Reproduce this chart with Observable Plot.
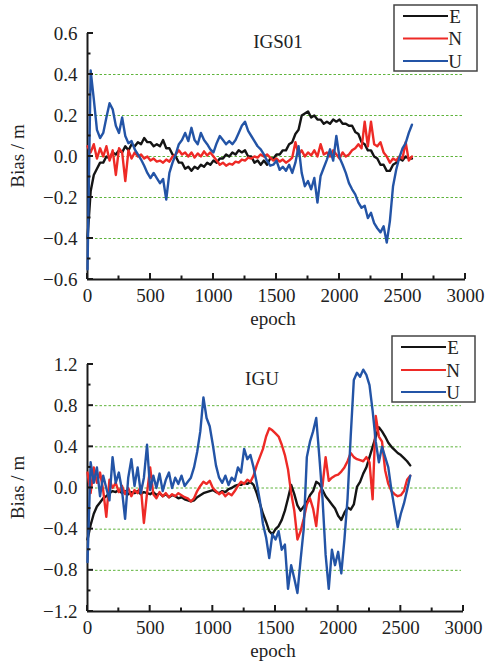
<!DOCTYPE html>
<html><head><meta charset="utf-8">
<script src="https://cdn.jsdelivr.net/npm/d3@7"></script>
<script src="https://cdn.jsdelivr.net/npm/@observablehq/plot@0.6"></script>
<style>
body{margin:0;background:#fff;}
#chart{width:488px;position:relative;}
#chart svg{display:block;}
</style></head><body><div id="chart"></div>
<script>
// sampling epochs shared by both panels
const epochs = [0,25,50,75,100,125,150,175,200,225,250,275,300,325,350,375,400,425,450,475,500,525,550,575,600,625,650,675,700,725,750,775,800,825,850,875,900,925,950,975,1000,1025,1050,1075,1100,1125,1150,1175,1200,1225,1250,1275,1300,1325,1350,1375,1400,1425,1450,1475,1500,1525,1550,1575,1600,1625,1650,1675,1700,1725,1750,1775,1800,1825,1850,1875,1900,1925,1950,1975,2000,2025,2050,2075,2100,2125,2150,2175,2200,2225,2250,2275,2300,2325,2350,2375,2400,2425,2450,2475,2500,2525,2550,2575];

// IGS01 panel
const igs01E = [-0.40,-0.17,-0.09,-0.06,-0.03,-0.03,0.00,-0.01,0.02,0.01,0.03,0.02,0.05,0.03,0.06,0.05,0.07,0.06,0.09,0.07,0.07,0.05,0.06,0.05,0.08,0.04,0.04,0.01,0.00,-0.03,-0.03,-0.06,-0.05,-0.07,-0.05,-0.06,-0.04,-0.05,-0.03,-0.04,-0.02,-0.03,-0.01,-0.01,0.01,0.00,0.02,0.01,0.03,0.02,0.03,0.00,0.00,-0.03,-0.02,-0.04,-0.02,-0.04,-0.01,-0.01,0.01,0.01,0.03,0.03,0.06,0.07,0.11,0.13,0.20,0.21,0.22,0.19,0.20,0.18,0.18,0.16,0.17,0.16,0.18,0.17,0.18,0.16,0.16,0.15,0.15,0.12,0.11,0.07,0.06,0.03,0.03,0.00,-0.01,-0.04,-0.04,-0.07,-0.07,-0.04,-0.03,-0.01,-0.02,0.00,-0.01,-0.01];
const igs01N = [0.05,0.02,0.06,-0.01,0.04,0.00,0.05,-0.02,0.03,-0.09,0.04,0.02,-0.12,0.03,-0.01,0.02,0.00,0.01,-0.01,0.00,-0.02,-0.01,-0.025,-0.02,-0.03,-0.015,-0.025,0.00,0.01,0.03,0.01,0.02,0.00,0.02,-0.005,0.015,0.00,0.025,0.005,0.02,0.00,-0.02,-0.04,-0.03,-0.045,-0.035,-0.04,-0.025,-0.03,-0.015,-0.02,-0.005,-0.01,0.00,-0.005,0.01,0.00,0.01,-0.005,-0.02,-0.01,-0.025,-0.015,-0.03,-0.02,-0.005,0.07,0.01,0.03,0.00,0.02,0.005,0.03,0.00,0.06,0.01,0.02,0.00,0.03,0.01,-0.01,0.02,0.00,0.01,0.03,0.04,0.06,0.04,0.17,0.05,0.17,0.06,0.05,0.07,0.02,0.00,-0.03,-0.01,-0.02,0.00,-0.01,0.07,-0.02,0.00];
const igs01U = [-0.55,0.42,0.28,0.13,0.09,0.115,0.19,0.26,0.23,0.15,0.115,0.19,0.10,0.065,0.075,0.035,0.01,-0.015,-0.045,-0.08,-0.105,-0.08,-0.105,-0.13,-0.11,-0.21,-0.08,-0.03,0.01,0.06,0.08,0.115,0.075,0.14,0.08,0.06,0.115,0.08,0.06,0.035,0.02,0.065,0.10,0.08,0.06,0.075,0.06,0.08,0.115,0.15,0.17,0.125,0.10,0.075,0.05,0.035,0.01,-0.02,-0.045,-0.04,-0.02,-0.065,-0.05,-0.07,-0.04,-0.08,-0.03,0.05,-0.08,-0.145,-0.12,-0.16,-0.105,-0.225,-0.095,-0.055,-0.015,0.035,-0.02,0.10,-0.005,-0.04,-0.08,-0.13,-0.16,-0.185,-0.225,-0.25,-0.24,-0.30,-0.275,-0.325,-0.35,-0.37,-0.34,-0.42,-0.315,-0.145,-0.065,-0.005,0.04,0.065,0.115,0.155];

// IGU panel
const iguE = [-0.50,-0.36,-0.25,-0.18,-0.14,-0.10,-0.08,-0.05,-0.03,-0.04,-0.02,-0.05,-0.03,-0.06,-0.04,-0.05,-0.03,-0.06,-0.04,-0.05,-0.06,-0.04,-0.07,-0.05,-0.08,-0.06,-0.09,-0.07,-0.08,-0.10,-0.09,-0.11,-0.12,-0.13,-0.12,-0.09,-0.07,-0.05,-0.04,-0.03,-0.02,-0.04,-0.05,-0.03,-0.04,-0.01,0.00,0.02,0.03,0.03,0.05,0.04,0.06,0.03,-0.05,-0.15,-0.25,-0.33,-0.42,-0.45,-0.40,-0.37,-0.31,-0.22,-0.10,0.03,-0.06,-0.17,-0.22,-0.18,-0.14,-0.07,-0.03,0.06,0.04,-0.02,-0.08,-0.12,-0.16,-0.20,-0.27,-0.31,-0.24,-0.19,-0.21,-0.16,0.01,0.06,0.14,0.20,0.30,0.40,0.50,0.59,0.55,0.50,0.44,0.40,0.37,0.34,0.32,0.29,0.26,0.22];
const iguN = [0.15,-0.05,0.20,0.05,0.15,-0.02,-0.28,0.08,0.00,0.05,-0.04,0.02,-0.06,0.00,-0.08,-0.02,-0.05,0.02,-0.34,-0.05,0.20,-0.06,-0.10,-0.04,-0.08,-0.05,-0.09,-0.06,-0.08,-0.05,-0.07,-0.09,-0.10,-0.13,-0.10,-0.03,0.02,0.06,0.04,0.07,0.00,-0.03,-0.06,-0.04,-0.08,-0.05,-0.07,-0.03,0.02,0.06,0.04,0.08,0.06,0.12,0.22,0.30,0.38,0.50,0.58,0.56,0.53,0.50,0.42,0.32,0.18,-0.05,-0.22,-0.50,-0.42,-0.30,-0.16,-0.10,-0.20,-0.37,-0.05,0.02,0.30,0.07,0.10,0.12,0.13,0.16,0.20,0.26,0.34,0.30,0.28,0.27,0.26,0.30,0.25,-0.11,0.70,0.50,0.45,0.17,0.04,-0.03,-0.06,-0.08,-0.07,-0.03,0.08,0.12];
const iguU = [-0.72,0.25,0.05,0.20,-0.08,0.12,0.00,-0.12,0.30,0.05,0.15,-0.02,-0.30,0.10,0.28,0.02,0.20,-0.05,0.10,0.42,-0.02,0.12,0.00,0.14,-0.03,0.08,0.15,0.00,0.10,0.04,0.12,0.02,0.06,0.10,0.20,0.35,0.55,0.88,0.68,0.60,0.42,0.22,0.10,0.05,0.12,0.03,0.10,0.07,0.20,0.15,0.38,0.28,0.32,0.20,0.05,-0.12,-0.35,-0.48,-0.68,-0.45,-0.50,-0.42,-0.60,-0.55,-0.98,-0.75,-0.88,-1.02,-0.70,-0.40,0.30,0.45,0.55,0.68,0.30,-0.10,-0.65,-0.98,-0.60,-0.75,-0.62,-0.83,-0.50,-0.10,0.50,1.05,1.12,1.08,1.15,1.10,1.00,0.75,0.45,0.25,0.40,0.30,0.20,-0.02,-0.20,-0.38,-0.25,-0.15,-0.02,0.12];

const seriesNames = ["E", "N", "U"];
const seriesColors = ["#141414", "#ee2a26", "#2354a6"];
const xTicks = [0, 500, 1000, 1500, 2000, 2500, 3000];
const xMinorTicks = [250, 750, 1250, 1750, 2250, 2750];
const igs01YTicks = [-0.6, -0.4, -0.2, 0, 0.2, 0.4, 0.6];
const igs01YMinor = [-0.5, -0.3, -0.1, 0.1, 0.3, 0.5];
const igs01Grid = [-0.4, -0.2, 0, 0.2, 0.4];
const iguYTicks = [-1.2, -0.8, -0.4, 0, 0.4, 0.8, 1.2];
const iguYMinor = [-1.0, -0.6, -0.2, 0.2, 0.6, 1.0];
const iguGrid = [-0.8, -0.4, 0, 0.4, 0.8];

const FONT = "'Liberation Serif', 'Times New Roman', serif";
const FS = 19;

function panel(cfg) {
  const W = 488, H = 333;
  const m = cfg.margin;
  const rows = [];
  [cfg.E, cfg.N, cfg.U].forEach((vals, k) => {
    vals.forEach((v, i) => rows.push({epoch: epochs[i], value: v, series: seriesNames[k]}));
  });
  const [y0, y1] = cfg.yDomain;
  const axisColor = "#1a1a1a";
  const svg = Plot.plot({
    width: W, height: H,
    marginTop: m.top, marginRight: m.right, marginBottom: m.bottom, marginLeft: m.left,
    x: {domain: [0, 3000]},
    y: {domain: cfg.yDomain},
    color: {domain: seriesNames, range: seriesColors},
    style: {fontFamily: FONT, fontSize: FS + "px", color: "#222", background: "#fff", overflow: "visible"},
    marks: [
      Plot.ruleY(cfg.grid, {y: d => d, stroke: "#5fb43c", strokeWidth: 1, strokeDasharray: "2.5,2", insetLeft: 8, insetRight: 2}),
      Plot.ruleX([0], {x: d => d, y1: y0, y2: y1, stroke: axisColor, strokeWidth: 2}),
      Plot.ruleY([y0], {y: d => d, x1: 0, x2: 3000, stroke: axisColor, strokeWidth: 2}),
      Plot.line(rows, {x: "epoch", y: "value", z: "series", stroke: "series", strokeWidth: 2.4, strokeLinejoin: "round"}),
      Plot.axisX(xTicks, {tickSize: 0, tickPadding: 9, tickFormat: d => String(d), fontSize: FS, fill: "#222", label: null}),
      Plot.axisY(cfg.yTicks, {tickSize: 0, tickPadding: 10, tickFormat: d3.format(".1f"), fontSize: FS, fill: "#222", label: null})
    ]
  });
  // inward-pointing ticks, positioned with the plot's own scales
  const sx = svg.scale("x"), sy = svg.scale("y");
  const s = d3.select(svg);
  const yb = sy.apply(y0), xl = sx.apply(0);
  const tg = s.append("g");
  const addLine = (a, b, c, d) => tg.append("line").attr("x1", a).attr("x2", b).attr("y1", c).attr("y2", d)
      .attr("stroke", axisColor).attr("stroke-width", 2);
  xTicks.forEach(v => addLine(sx.apply(v), sx.apply(v), yb, yb - 6));
  xMinorTicks.forEach(v => addLine(sx.apply(v), sx.apply(v), yb, yb - 3.5));
  cfg.yTicks.forEach(v => addLine(xl, xl + 6, sy.apply(v), sy.apply(v)));
  cfg.yMinor.forEach(v => addLine(xl, xl + 3.5, sy.apply(v), sy.apply(v)));

  s.append("text").attr("x", cfg.title.x).attr("y", cfg.title.y).attr("text-anchor", "middle")
    .attr("font-family", FONT).attr("font-size", FS).attr("fill", "#222").text(cfg.title.text);
  s.append("text").attr("transform", `translate(${17},${(sy.apply(y0) + sy.apply(y1)) / 2}) rotate(-90)`)
    .attr("text-anchor", "middle").attr("dy", "0.35em")
    .attr("font-family", FONT).attr("font-size", FS).attr("fill", "#222").text("Bias / m");
  s.append("text").attr("x", 273).attr("y", cfg.xLabelY).attr("text-anchor", "middle")
    .attr("font-family", FONT).attr("font-size", FS).attr("fill", "#222").text("epoch");
  const L = cfg.legend;
  const g = s.append("g");
  g.append("rect").attr("x", L.x).attr("y", L.y).attr("width", L.w).attr("height", L.h)
    .attr("fill", "#fff").attr("stroke", "#444").attr("stroke-width", 1.5);
  seriesNames.forEach((name, k) => {
    const yy = L.y + L.rows[k];
    g.append("line").attr("x1", L.x + 9).attr("x2", L.x + 54).attr("y1", yy).attr("y2", yy)
      .attr("stroke", seriesColors[k]).attr("stroke-width", 2.2);
    g.append("text").attr("x", L.x + 61).attr("y", yy + 6.5)
      .attr("font-family", FONT).attr("font-size", FS).attr("fill", "#222").text(name);
  });
  return svg;
}

const chart = document.getElementById("chart");
chart.appendChild(panel({
  E: igs01E, N: igs01N, U: igs01U,
  yDomain: [-0.6, 0.6], yTicks: igs01YTicks, yMinor: igs01YMinor, grid: igs01Grid,
  margin: {top: 33, right: 23, bottom: 54, left: 87},
  title: {text: "IGS01", x: 278, y: 48},
  xLabelY: 325,
  legend: {x: 394, y: 5, w: 83, h: 66, rows: [11, 33.5, 56]}
}));
chart.appendChild(panel({
  E: iguE, N: iguN, U: iguU,
  yDomain: [-1.2, 1.2], yTicks: iguYTicks, yMinor: iguYMinor, grid: iguGrid,
  margin: {top: 31, right: 25, bottom: 55, left: 87},
  title: {text: "IGU", x: 262, y: 52},
  xLabelY: 324,
  legend: {x: 392, y: 3, w: 83, h: 66, rows: [11, 34, 56]}
}));
</script></body></html>
